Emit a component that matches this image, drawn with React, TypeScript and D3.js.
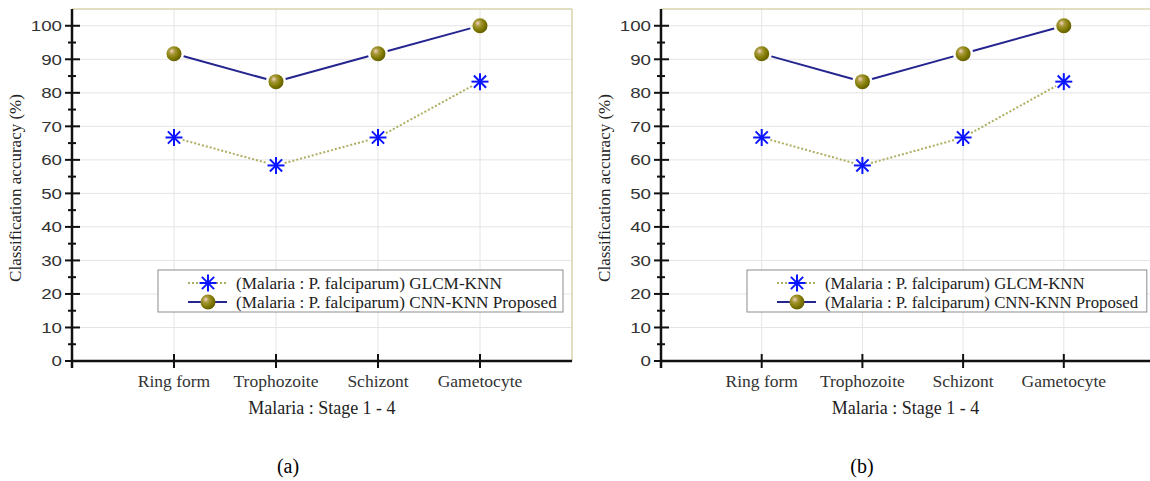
import React from 'react';
import * as d3 from 'd3';

const categories = ['Ring form', 'Trophozoite', 'Schizont', 'Gametocyte'];
const glcmKnn = [66.67, 58.33, 66.67, 83.33];
const cnnKnn = [91.67, 83.33, 91.67, 100];
const yMajor = [0, 10, 20, 30, 40, 50, 60, 70, 80, 90, 100];
const yMinor = [5, 15, 25, 35, 45, 55, 65, 75, 85, 95];
const legendNames = ['(Malaria : P. falciparum) GLCM-KNN', '(Malaria : P. falciparum) CNN-KNN Proposed'];
const panels = [
    {id: 'a', x0: 72, step: 102, right: 572, caption: 288, fs: 17.2},
    {id: 'b', x0: 661, step: 100.7, right: 1150, caption: 862, fs: 16.8},
];

const serif = '"Liberation Serif", "Times New Roman", serif';
const sans = '"Liberation Sans", Arial, sans-serif';
const navy = '#25258f';
const dotCol = '#aeae62';

// segments between points, trimmed near the markers
function gapSegments(pts: [number, number][], gap: number) {
    const segs: string[] = [];
    for (let i = 0; i < pts.length - 1; i++) {
        const [x1, y1] = pts[i];
        const [x2, y2] = pts[i + 1];
        const len = Math.hypot(x2 - x1, y2 - y1);
        const ux = (x2 - x1) / len, uy = (y2 - y1) / len;
        segs.push(d3.line()([[x1 + ux * gap, y1 + uy * gap], [x2 - ux * gap, y2 - uy * gap]]) as string);
    }
    return segs;
}

function Star({x, y}: {x: number, y: number}) {
    const r = 8.5, d = r * 0.72;
    return (
        <g stroke="#0a14ff" strokeWidth={2}>
            <line x1={x - r} y1={y} x2={x + r} y2={y}/>
            <line x1={x} y1={y - r} x2={x} y2={y + r}/>
            <line x1={x - d} y1={y - d} x2={x + d} y2={y + d}/>
            <line x1={x - d} y1={y + d} x2={x + d} y2={y - d}/>
        </g>
    );
}

function Ball({x, y}: {x: number, y: number}) {
    return <circle cx={x} cy={y} r={7.5} fill="url(#ball)"/>;
}

function Panel({p}: {p: typeof panels[number]}) {
    const x = d3.scaleLinear().domain([0, 1]).range([p.x0, p.x0 + p.step]);
    const y = d3.scaleLinear().domain([0, 105]).range([361, 9]);
    const top = y(105), bottom = y(0);
    const g1 = glcmKnn.map((v, i) => [x(i + 1), y(v)] as [number, number]);
    const g2 = cnnKnn.map((v, i) => [x(i + 1), y(v)] as [number, number]);
    const lx = p.x0 + 86, ly = 270;
    const mid = (p.x0 + Math.min(p.right, p.x0 + 4.9 * p.step)) / 2;
    return (
        <g>
            {yMajor.slice(1).map(t => (
                <line key={'gy' + t} x1={p.x0} x2={p.right} y1={y(t)} y2={y(t)} stroke="#e4e4e4" strokeWidth={1}/>
            ))}
            {categories.map((c, i) => (
                <line key={'gx' + c} x1={x(i + 1)} x2={x(i + 1)} y1={top} y2={bottom} stroke="#e4e4e4" strokeWidth={1}/>
            ))}
            <line x1={p.x0} x2={p.right} y1={top} y2={top} stroke="#d8d3ae" strokeWidth={1.5}/>
            {p.right < 1150 && <line x1={p.right} x2={p.right} y1={top} y2={bottom} stroke="#d8d3ae" strokeWidth={1.5}/>}

            {gapSegments(g1, 9).map((d, i) => (
                <path key={'s1' + i} d={d} fill="none" stroke={dotCol} strokeWidth={2} strokeDasharray="2,2"/>
            ))}
            {gapSegments(g2, 10).map((d, i) => (
                <path key={'s2' + i} d={d} fill="none" stroke={navy} strokeWidth={2}/>
            ))}
            {g1.map(([px, py], i) => <Star key={'m1' + i} x={px} y={py}/>)}
            {g2.map(([px, py], i) => <Ball key={'m2' + i} x={px} y={py}/>)}

            <line x1={p.x0} x2={p.x0} y1={top} y2={bottom + 7} stroke="#111" strokeWidth={2.5}/>
            <line x1={p.x0 - 1} x2={p.right} y1={bottom} y2={bottom} stroke="#111" strokeWidth={2.5}/>
            {yMajor.map(t => (
                <line key={'ty' + t} x1={p.x0 - 7} x2={p.x0 + 8} y1={y(t)} y2={y(t)} stroke="#111" strokeWidth={2}/>
            ))}
            {yMinor.map(t => (
                <line key={'tm' + t} x1={p.x0 - 4} x2={p.x0 + 4} y1={y(t)} y2={y(t)} stroke="#111" strokeWidth={2}/>
            ))}
            {yMajor.map(t => (
                <text key={'ly' + t} x={p.x0 - 10} y={y(t)} dy="0.35em" textAnchor="end"
                      fontFamily={sans} fontSize={15} fill="#333"
                      transform={`translate(${p.x0 - 10},0) scale(1.25,1) translate(${-(p.x0 - 10)},0)`}>{t}</text>
            ))}
            {categories.map((c, i) => (
                <g key={'tx' + c}>
                    <line x1={x(i + 1)} x2={x(i + 1)} y1={bottom - 7} y2={bottom + 7} stroke="#111" strokeWidth={2}/>
                    <text x={x(i + 1)} y={bottom + 26} textAnchor="middle" fontFamily={serif} fontSize={17.5} fill="#333">{c}</text>
                </g>
            ))}
            <text x={mid} y={bottom + 53} textAnchor="middle" fontFamily={serif} fontSize={18} fill="#222">Malaria : Stage 1 - 4</text>
            <text transform={`translate(${p.x0 - 51},${(top + bottom) / 2 + 3}) rotate(-90)`} textAnchor="middle"
                  fontFamily={serif} fontSize={17} fill="#222">Classification accuracy (%)</text>

            <rect x={lx} y={ly} width={4 * p.step - 3} height={42} fill="#fff" stroke="#8c8c8c" strokeWidth={1}/>
            <line x1={lx + 30} x2={lx + 69} y1={ly + 13} y2={ly + 13} stroke={dotCol} strokeWidth={2} strokeDasharray="2,2"/>
            <Star x={lx + 50} y={ly + 13}/>
            <line x1={lx + 30} x2={lx + 69} y1={ly + 32} y2={ly + 32} stroke={navy} strokeWidth={2}/>
            <Ball x={lx + 50} y={ly + 32}/>
            {legendNames.map((n, i) => (
                <text key={n} x={lx + 78} y={ly + 13 + i * 19} dy="0.35em" fontFamily={serif} fontSize={p.fs} fill="#222">{n}</text>
            ))}
            <text x={p.caption} y={473} textAnchor="middle" fontFamily={serif} fontSize={20} fill="#000">({p.id})</text>
        </g>
    );
}

export default function App() {
    return (
        <svg xmlns="http://www.w3.org/2000/svg" width={1150} height={481}
             style={{position: 'absolute', left: 0, top: 0, background: '#fff'}}>
            <defs>
                <radialGradient id="ball" cx="0.38" cy="0.38" r="0.65" fx="0.35" fy="0.32">
                    <stop offset="0" stopColor="#f4d2c6"/>
                    <stop offset="0.3" stopColor="#a89a3a"/>
                    <stop offset="0.7" stopColor="#7e7800"/>
                    <stop offset="1" stopColor="#625e00"/>
                </radialGradient>
            </defs>
            {panels.map(p => <Panel key={p.id} p={p}/>)}
        </svg>
    );
}
